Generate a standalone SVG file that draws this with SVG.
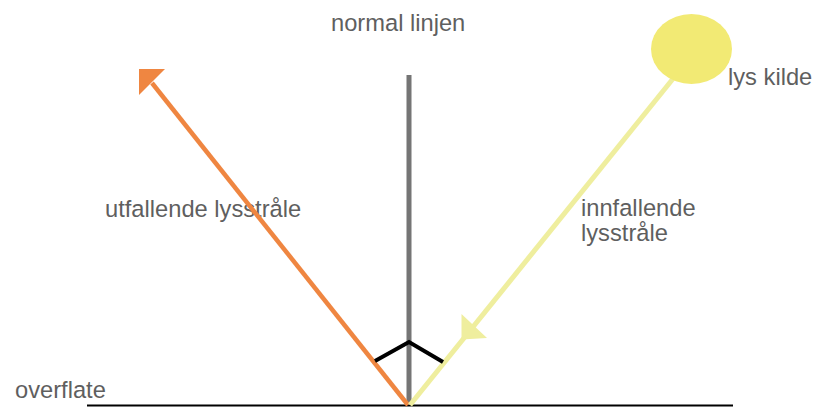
<svg xmlns="http://www.w3.org/2000/svg" width="815" height="407" viewBox="0 0 815 407">
<style>
.lbl{font-family:"Liberation Sans",Arial,sans-serif;font-size:23.7px;fill:#5f5f5f}
.orange{fill:#EF8641}
.yellow{fill:#EFEE9E}
</style>
<rect width="815" height="407" fill="#ffffff"/>
<g id="labels">
<text id="lbl-normal" class="lbl" x="331" y="30.5">normal linjen</text>
<text id="lbl-lyskilde" class="lbl" x="728" y="85">lys kilde</text>
<text id="lbl-utfallende" class="lbl" x="105" y="217">utfallende lysstråle</text>
<text id="lbl-innfallende" class="lbl" x="581" y="215.5"><tspan x="581">innfallende</tspan><tspan x="581" y="240.5">lysstråle</tspan></text>
<text id="lbl-overflate" class="lbl" x="15" y="398">overflate</text>
</g>
<g id="connectors">
<line id="surface" x1="87" y1="405.5" x2="733" y2="405.5" stroke="#000" stroke-width="2.2"/>
<line id="normal" x1="409" y1="75" x2="409" y2="405" stroke="#757575" stroke-width="5"/>
<line id="reflected" x1="408" y1="405" x2="152" y2="83" stroke="#EF8641" stroke-width="4.5"/>
<polygon id="reflected-head" class="orange" points="139,69 165,69 139,95"/>
<line id="incident" x1="676" y1="75" x2="410" y2="405" stroke="#EFEE9E" stroke-width="5"/>
<polygon id="incident-head" class="yellow" points="461.5,339.5 461.5,314 487,338"/>
<polyline id="angle" points="375,361 409,342 443,362" fill="none" stroke="#000" stroke-width="4"/>
</g>
<g id="sun">
<ellipse cx="691.5" cy="49" rx="40.5" ry="35" fill="#F2EA74"/>
</g>
</svg>
